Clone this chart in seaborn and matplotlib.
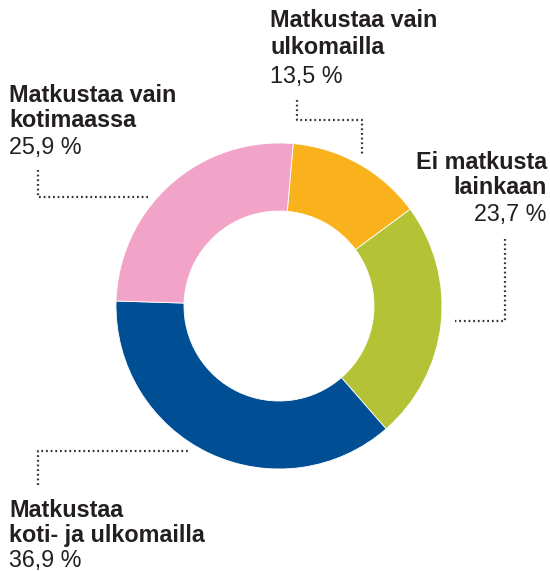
import matplotlib
matplotlib.use("Agg")
import matplotlib.pyplot as plt
import seaborn as sns

# Data
groups = ["Matkustaa vain ulkomailla", "Ei matkusta lainkaan",
          "Matkustaa koti- ja ulkomailla", "Matkustaa vain kotimaassa"]
shares = [13.5, 23.7, 36.9, 25.9]
share_labels = ["13,5 %", "23,7 %", "36,9 %", "25,9 %"]
name_lines = [["Matkustaa vain", "ulkomailla"],
              ["Ei matkusta", "lainkaan"],
              ["Matkustaa", "koti- ja ulkomailla"],
              ["Matkustaa vain", "kotimaassa"]]
colors = ["#F9B21B", "#B4C336", "#004F95", "#F2A3C8"]

sns.set_theme(style="white")
plt.rcParams["font.family"] = ["Liberation Sans", "DejaVu Sans"]

W, H = 550, 571
txt_col = "#231F20"

fig = plt.figure(figsize=(W / 100, H / 100), dpi=100)
ax = fig.add_axes([0, 0, 1, 1])

def py(y):
    # pixel row -> data y
    return H - y

# donut
ax.pie(shares, colors=sns.color_palette(colors), startangle=85, counterclock=False,
       center=(279, py(306)), radius=163,
       wedgeprops=dict(width=68, linewidth=0.6, edgecolor="white"))

ax.set_xlim(0, W)
ax.set_ylim(0, H)
ax.set_aspect("equal")
ax.axis("off")

# label positions (x, baselines, alignment)
label_pos = [
    (270, [26.7, 54.3, 82.7], "left"),
    (547, [169.3, 194.5, 220.7], "right"),
    (9, [516.7, 541.7, 566.7], "left"),
    (9, [101.7, 126.7, 154], "left"),
]
for i in range(len(groups)):
    x, bl, ha = label_pos[i]
    for j, line in enumerate(name_lines[i]):
        ax.text(x, py(bl[j]), line, ha=ha, va="baseline", fontsize=16.8,
                fontweight="bold", color=txt_col)
    ax.text(x, py(bl[2]), share_labels[i], ha=ha, va="baseline", fontsize=16.8,
            color=txt_col)

# dotted leader lines
leaders = [
    ([297, 297, 362, 362], [100, 120, 120, 154]),
    ([504.5, 504.5, 455], [239, 321, 321]),
    ([38, 38, 188], [485, 451, 451]),
    ([38, 38, 148], [170, 197, 197]),
]
for xs, ys in leaders:
    ax.plot(xs, [py(v) for v in ys], color="#333333", lw=1.6,
            linestyle=(0, (0.8, 1.3)), solid_capstyle="butt")

fig.savefig("out.png", dpi=100, facecolor="white")
